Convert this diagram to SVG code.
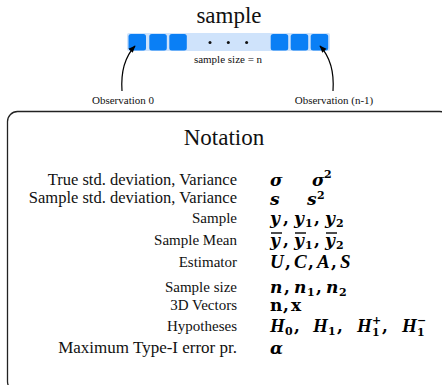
<svg xmlns="http://www.w3.org/2000/svg" width="442" height="385" viewBox="0 0 442 385">
  <style>
    .t{font-family:"Liberation Serif","Times New Roman",serif;fill:#111}
    .title{font-size:23px}
    .small{font-size:11px}
    .lbl{font-size:15px;text-anchor:end}
    .lbl-long{font-size:16.5px}
    .lbl-max{font-size:17px}
    .m{font-family:"DejaVu Serif",serif;font-weight:bold;font-style:italic;font-size:17px;fill:#000}
    .cap{font-family:"Liberation Serif","Times New Roman",serif;font-weight:bold;font-style:italic;font-size:19px;fill:#000}
    .mb{font-family:"DejaVu Serif",serif;font-weight:bold;font-size:17px;fill:#000}
    .d{font-family:"DejaVu Serif",serif;font-weight:bold;font-size:11px;fill:#000}
    .bar{fill:#cfe3fb}
    .cell{fill:#0a7ff5}
    .dot{fill:#111}
    .conn{fill:none;stroke:#000;stroke-width:1.2}
    .frame{fill:none;stroke:#222;stroke-width:1.3}
    .ov{stroke:#000;stroke-width:1.4}
  </style>
  <defs>
    <marker id="ah" viewBox="0 0 10 10" refX="9" refY="5" markerWidth="6" markerHeight="6" orient="auto">
      <path d="M0,1 L10,5 L0,9 z" fill="#000"/>
    </marker>
  </defs>

  <!-- sample strip -->
  <g id="sample">
    <text class="t title" x="229" y="23" text-anchor="middle">sample</text>
    <rect class="bar" x="127" y="33" width="203" height="18" rx="2"/>
    <rect class="cell" x="128.5" y="34" width="17.5" height="16.5" rx="2.5"/>
    <rect class="cell" x="149.3" y="34" width="17.5" height="16.5" rx="2.5"/>
    <rect class="cell" x="169.3" y="34" width="17.5" height="16.5" rx="2.5"/>
    <circle class="dot" cx="210" cy="42.5" r="1.5"/>
    <circle class="dot" cx="228.3" cy="42.5" r="1.5"/>
    <circle class="dot" cx="246.6" cy="42.5" r="1.5"/>
    <rect class="cell" x="270.7" y="34" width="17.5" height="16.5" rx="2.5"/>
    <rect class="cell" x="290.7" y="34" width="17.5" height="16.5" rx="2.5"/>
    <rect class="cell" x="310.7" y="34" width="17.5" height="16.5" rx="2.5"/>
    <text class="t small" x="228" y="63" text-anchor="middle">sample size = n</text>
  </g>

  <g id="obs-first">
    <text class="t small" x="123" y="104" text-anchor="middle">Observation 0</text>
  </g>
  <g id="obs-last">
    <text class="t small" x="334" y="104" text-anchor="middle">Observation (n-1)</text>
  </g>

  <g id="connectors">
    <path class="conn" d="M122,91 Q120,62 135,46" marker-end="url(#ah)"/>
    <path class="conn" d="M333,91 Q335,62 320,46" marker-end="url(#ah)"/>
  </g>

  <!-- notation table -->
  <g id="notation">
    <rect class="frame" x="7.5" y="111.5" width="442" height="280" rx="10"/>
    <text class="t" x="224" y="145" font-size="23" text-anchor="middle">Notation</text>

    <text class="t lbl lbl-long" x="237" y="185">True std. deviation, Variance</text>
    <text class="t lbl lbl-long" x="237" y="203">Sample std. deviation, Variance</text>
    <text class="t lbl" x="237" y="223">Sample</text>
    <text class="t lbl" x="237" y="245">Sample Mean</text>
    <text class="t lbl" x="237" y="267">Estimator</text>
    <text class="t lbl" x="237" y="292">Sample size</text>
    <text class="t lbl" x="237" y="310">3D Vectors</text>
    <text class="t lbl" x="237" y="331">Hypotheses</text>
    <text class="t lbl lbl-max" x="237" y="353">Maximum Type-I error pr.</text>

    <!-- sigma, sigma^2 -->
    <text class="m" x="270" y="186">σ</text>
    <text class="m" x="312" y="186">σ</text>
    <text class="d" x="324" y="178">2</text>
    <!-- s, s^2 -->
    <text class="m" x="270" y="205">s</text>
    <text class="m" x="307" y="205">s</text>
    <text class="d" x="317" y="199">2</text>
    <!-- y, y1, y2 -->
    <text class="m" x="270" y="224">y</text>
    <text class="mb" x="283" y="224">,</text>
    <text class="m" x="294" y="224">y</text>
    <text class="d" x="305" y="227">1</text>
    <text class="mb" x="314" y="224">,</text>
    <text class="m" x="325" y="224">y</text>
    <text class="d" x="336" y="227">2</text>
    <!-- mean of y -->
    <text class="m" x="270" y="246">y</text>
    <text class="mb" x="283" y="246">,</text>
    <text class="m" x="294" y="246">y</text>
    <text class="d" x="305" y="249">1</text>
    <text class="mb" x="314" y="246">,</text>
    <text class="m" x="325" y="246">y</text>
    <text class="d" x="336" y="249">2</text>
    <line class="ov" x1="271" y1="233" x2="282" y2="233"/>
    <line class="ov" x1="295" y1="233" x2="306" y2="233"/>
    <line class="ov" x1="326" y1="233" x2="337" y2="233"/>
    <!-- estimators -->
    <text class="cap" x="270" y="268">U</text>
    <text class="mb" x="285" y="268">,</text>
    <text class="cap" x="294" y="268">C</text>
    <text class="mb" x="308" y="268">,</text>
    <text class="cap" x="317" y="268">A</text>
    <text class="mb" x="331" y="268">,</text>
    <text class="cap" x="340" y="268">S</text>
    <!-- n, n1, n2 -->
    <text class="m" x="270" y="293">n</text>
    <text class="mb" x="284" y="293">,</text>
    <text class="m" x="294" y="293">n</text>
    <text class="d" x="307" y="296">1</text>
    <text class="mb" x="316" y="293">,</text>
    <text class="m" x="326" y="293">n</text>
    <text class="d" x="339" y="296">2</text>
    <!-- vectors -->
    <text class="mb" x="270" y="311">n</text>
    <text class="mb" x="283" y="311">,</text>
    <text class="mb" x="291" y="311">x</text>
    <!-- hypotheses -->
    <text class="cap" x="270" y="332">H</text>
    <text class="d" x="285" y="335">0</text>
    <text class="mb" x="294" y="332">,</text>
    <text class="cap" x="313" y="332">H</text>
    <text class="d" x="328" y="335">1</text>
    <text class="mb" x="337" y="332">,</text>
    <text class="cap" x="357" y="332">H</text>
    <text class="d" x="372" y="324">+</text>
    <text class="d" x="372" y="336">1</text>
    <text class="mb" x="382" y="332">,</text>
    <text class="cap" x="402" y="332">H</text>
    <text class="d" x="417" y="324">−</text>
    <text class="d" x="417" y="336">1</text>
    <!-- alpha -->
    <text class="m" x="270" y="354">α</text>
  </g>
</svg>
